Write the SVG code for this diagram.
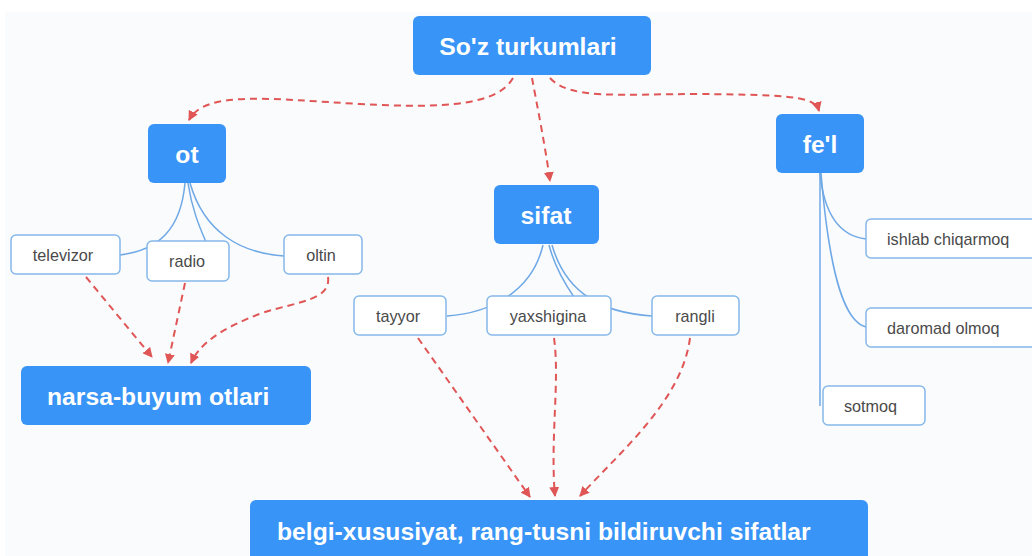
<svg xmlns="http://www.w3.org/2000/svg" width="1032" height="556" viewBox="0 0 1032 556">
<defs>
<style>
.main rect{fill:#3894f6;}
.main text{fill:#fff;font-family:"Liberation Sans",Arial,sans-serif;font-weight:bold;font-size:24.7px;}
.leaf rect{fill:#fff;stroke:#86b8ea;stroke-width:1.5;}
.leaf text{fill:#4a4a4a;font-family:"Liberation Sans",Arial,sans-serif;font-size:16.2px;}
.tree path{fill:none;stroke:#6fa8e6;stroke-width:1.5;}
.rel path{fill:none;stroke:#e05656;stroke-width:2;stroke-dasharray:7 5;marker-end:url(#ah);}
</style>
<marker id="ah" viewBox="0 0 10 10" refX="9" refY="5" markerWidth="5" markerHeight="5" orient="auto" markerUnits="strokeWidth">
<path d="M0,0 L10,5 L0,10 z" fill="#e05656"/>
</marker>
</defs>
<rect x="0" y="0" width="1032" height="556" fill="#ffffff"/>
<rect x="5" y="12" width="1027" height="544" fill="#f9fbfd"/>

<g id="tree-links" class="tree">
<path d="M185,183 C181,228 160,250 120,255"/>
<path d="M188,183 C192,210 200,228 206,242"/>
<path d="M190,183 C204,232 240,253 284,256"/>
<path d="M543,245 C532,292 490,313 447,316"/>
<path d="M549,245 C555,268 565,284 574,297"/>
<path d="M552,245 C566,294 603,313 652,316"/>
<path d="M820,173 C824,214 840,236 866,239"/>
<path d="M821,173 C830,282 846,322 866,327"/>
<path d="M820,173 L820,406"/>
</g>

<g id="relations" class="rel">
<path d="M513,78 C498,104 450,109 360,104 C270,99 205,90 189,120"/>
<path d="M532,78 C538,110 545,145 550,181"/>
<path d="M550,78 C570,100 620,94 700,94 C790,95 815,96 819,111"/>
<path d="M86,277 L152,357"/>
<path d="M185,283 L168,363"/>
<path d="M328,277 C331,300 300,301 262,313 C222,328 200,343 191,363"/>
<path d="M418,338 L530,497"/>
<path d="M554,338 C560,380 550,440 555,496"/>
<path d="M690,338 C682,400 622,450 580,496"/>
</g>

<g id="n-soz" class="main"><rect x="413" y="16" width="238" height="59" rx="6"/><text x="528" y="55" text-anchor="middle">So'z turkumlari</text></g>
<g id="n-ot" class="main"><rect x="148" y="124" width="78" height="59" rx="6"/><text x="187" y="163" text-anchor="middle">ot</text></g>
<g id="n-sifat" class="main"><rect x="494" y="185" width="105" height="59" rx="6"/><text x="546" y="224" text-anchor="middle">sifat</text></g>
<g id="n-fel" class="main"><rect x="776" y="114" width="88" height="59" rx="6"/><text x="820" y="153" text-anchor="middle">fe'l</text></g>
<g id="n-narsa" class="main"><rect x="21" y="366" width="290" height="59" rx="6"/><text x="47" y="405">narsa-buyum otlari</text></g>
<g id="n-belgi" class="main"><rect x="250" y="500" width="618" height="66" rx="6"/><text x="277" y="540">belgi-xususiyat, rang-tusni bildiruvchi sifatlar</text></g>

<g id="n-televizor" class="leaf"><rect x="11" y="235" width="109" height="39" rx="5"/><text x="63" y="261" text-anchor="middle">televizor</text></g>
<g id="n-radio" class="leaf"><rect x="147" y="241" width="82" height="40" rx="5"/><text x="187" y="267" text-anchor="middle">radio</text></g>
<g id="n-oltin" class="leaf"><rect x="284" y="235" width="78" height="39" rx="5"/><text x="321" y="261" text-anchor="middle">oltin</text></g>
<g id="n-tayyor" class="leaf"><rect x="354" y="296" width="92" height="39" rx="5"/><text x="398" y="322" text-anchor="middle">tayyor</text></g>
<g id="n-yaxshigina" class="leaf"><rect x="487" y="296" width="124" height="39" rx="5"/><text x="548" y="322" text-anchor="middle">yaxshigina</text></g>
<g id="n-rangli" class="leaf"><rect x="652" y="296" width="87" height="39" rx="5"/><text x="695" y="322" text-anchor="middle">rangli</text></g>
<g id="n-ishlab" class="leaf"><rect x="866" y="219" width="180" height="39" rx="5"/><text x="887" y="245">ishlab chiqarmoq</text></g>
<g id="n-daromad" class="leaf"><rect x="866" y="308" width="180" height="39" rx="5"/><text x="887" y="334">daromad olmoq</text></g>
<g id="n-sotmoq" class="leaf"><rect x="823" y="386" width="102" height="39" rx="5"/><text x="844" y="412">sotmoq</text></g>
</svg>
